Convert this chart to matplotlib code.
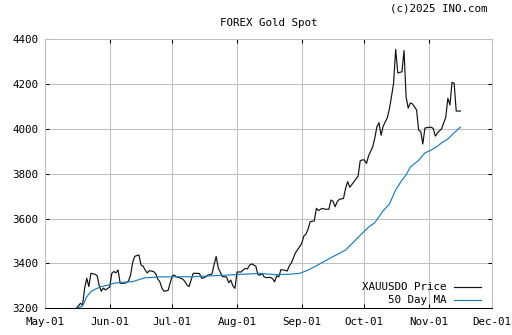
#!/usr/bin/env python3
import pandas as pd
import matplotlib
matplotlib.use("Agg")
import matplotlib.pyplot as plt
import matplotlib.dates as mdates

# daily points (Sun-Fri, forex week)
price_start = "2025-05-16"
price_end = "2025-11-16"
price = [
    3200,                                   # Fri May 16
    3222, 3215, 3290, 3334, 3297, 3356,     # week of May 18
    3352, 3345, 3300, 3276, 3290, 3282,     # May 25
    3295, 3356, 3364, 3358, 3371, 3312,     # Jun 1
    3312, 3314, 3322, 3348, 3405, 3432,     # Jun 8
    3438, 3393, 3388, 3370, 3358, 3368,     # Jun 15
    3364, 3355, 3330, 3319, 3290, 3276,     # Jun 22
    3280, 3315, 3345, 3348, 3340, 3338,     # Jun 29
    3330, 3320, 3304, 3297, 3326, 3356,     # Jul 6
    3356, 3355, 3334, 3336, 3340, 3348,     # Jul 13
    3353, 3395, 3431, 3380, 3360, 3341,     # Jul 20
    3340, 3314, 3326, 3300, 3289, 3362,     # Jul 27
    3362, 3372, 3378, 3376, 3392, 3398,     # Aug 3
    3388, 3350, 3348, 3356, 3340, 3337,     # Aug 10
    3338, 3332, 3318, 3345, 3340, 3372,     # Aug 17
    3370, 3366, 3388, 3402, 3425, 3448,     # Aug 24
    3475, 3490, 3522, 3531, 3552, 3586,     # Aug 31
    3590, 3646, 3636, 3642, 3646, 3642,     # Sep 7
    3642, 3683, 3677, 3653, 3676, 3686,     # Sep 14
    3690, 3735, 3765, 3740, 3752, 3765,     # Sep 21
    3790, 3858, 3862, 3862, 3846, 3880,     # Sep 28
    3920, 3960, 4010, 4028, 3972, 4012,     # Oct 5
    4050, 4090, 4145, 4205, 4355, 4250,     # Oct 12
    4255, 4350, 4142, 4093, 4116, 4112,     # Oct 19
    4085, 3995, 3988, 3933, 4004, 4006,     # Oct 26
    4008, 4002, 3968, 3982, 3992, 4001,     # Nov 2
    4052, 4137, 4107, 4208, 4204, 4080,     # Nov 9
    4080,                                   # Sun Nov 16
]

ma_dates = [
    "2025-05-16", "2025-05-19", "2025-05-21", "2025-05-23", "2025-05-25",
    "2025-05-28", "2025-06-01", "2025-06-03", "2025-06-06", "2025-06-12",
    "2025-06-15", "2025-06-18", "2025-06-25", "2025-07-11", "2025-07-27",
    "2025-08-12", "2025-08-19", "2025-08-26", "2025-08-31", "2025-09-04",
    "2025-09-07", "2025-09-10", "2025-09-15", "2025-09-19", "2025-09-22",
    "2025-09-26", "2025-09-30", "2025-10-03", "2025-10-06", "2025-10-10",
    "2025-10-13", "2025-10-16", "2025-10-19", "2025-10-21", "2025-10-23",
    "2025-10-27", "2025-10-30", "2025-11-02", "2025-11-05", "2025-11-07",
    "2025-11-10", "2025-11-13", "2025-11-16",
]
ma = [
    3200, 3210, 3252, 3274, 3285,
    3297, 3305, 3312, 3315, 3319,
    3328, 3336, 3340, 3341, 3348,
    3356, 3350, 3352, 3356, 3370,
    3385, 3400, 3426, 3445, 3460,
    3497, 3535, 3562, 3582, 3635,
    3665, 3728, 3772, 3795, 3830,
    3860, 3893, 3906, 3923, 3938,
    3955, 3983, 4008,
]

month_ticks = pd.date_range("2025-05-01", "2025-12-01", freq="MS")
y_ticks = [3200, 3400, 3600, 3800, 4000, 4200, 4400]

GRID = "#c0c0c0"
BLUE = "#1a7cc1"
FONT = "DejaVu Sans Mono"


def main():
    dates = pd.bdate_range(price_start, price_end, freq="C",
                           weekmask="Sun Mon Tue Wed Thu Fri")
    assert len(dates) == len(price), (len(dates), len(price))
    ma_x = pd.to_datetime(ma_dates)

    plt.rcParams["font.family"] = FONT
    fig = plt.figure(figsize=(5.12, 3.35), dpi=100)
    ax = fig.add_axes([45 / 512, 1 - 308.3 / 335, 446.7 / 512, 269 / 335])

    ax.plot(dates, price, color="#111111", linewidth=0.85)
    ax.plot(ma_x, ma, color=BLUE, linewidth=0.85)

    ax.set_xlim(month_ticks[0], month_ticks[-1])
    ax.set_ylim(3200, 4400)
    ax.set_xticks(month_ticks)
    ax.xaxis.set_major_formatter(mdates.DateFormatter("%b-%d"))
    ax.set_yticks(y_ticks)

    ax.grid(True, color=GRID, linewidth=0.75)
    ax.set_axisbelow(True)
    for side in ("left", "top", "right"):
        ax.spines[side].set_color(GRID)
        ax.spines[side].set_linewidth(0.75)
    ax.spines["bottom"].set_color("black")
    ax.spines["bottom"].set_linewidth(0.75)

    ax.tick_params(axis="both", direction="in", length=3, width=0.75,
                   color="black", labelsize=7.8, top=True, right=True)
    ax.tick_params(axis="x", pad=6.5)
    ax.tick_params(axis="y", pad=5)

    # legend, text right-aligned in front of the sample lines
    for ty, label, col in [(0.080, "XAUUSDO Price", "#111111"),
                           (0.029, "50 Day MA", BLUE)]:
        ax.text(0.899, ty, label, transform=ax.transAxes, ha="right",
                va="center", fontsize=7.8)
        ax.plot([0.915, 0.976], [ty, ty], transform=ax.transAxes,
                color=col, linewidth=0.85)

    fig.text(268.3 / 512, 1 - 22.5 / 335, "FOREX Gold Spot", ha="center",
             va="center", fontsize=7.8)
    fig.text(487 / 512, 1 - 8.5 / 335, "(c)2025 INO.com", ha="right",
             va="center", fontsize=7.8)

    fig.savefig("out.png", dpi=100)
    plt.close(fig)


if __name__ == "__main__":
    main()
